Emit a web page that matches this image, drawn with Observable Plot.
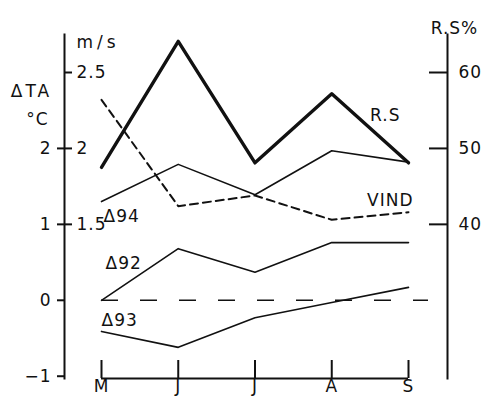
<!DOCTYPE html>
<html>
<head>
<meta charset="utf-8">
<script src="https://cdn.jsdelivr.net/npm/d3@7"></script>
<script src="https://cdn.jsdelivr.net/npm/@observablehq/plot@0.6"></script>
<style>
  html, body { margin: 0; padding: 0; background: #fff; }
</style>
</head>
<body>
<div id="chart"></div>
<script>
// Months (x categories)
const months = ["M", "J", "J", "A", "S"];
// R.S % (right axis)
const rs = [47.5, 64.1, 48.1, 57.2, 48.1];
// Wind, m/s (left inner axis)
const vind = [2.32, 1.62, 1.69, 1.53, 1.58];
// ΔTA °C series
const d94 = [1.30, 1.79, 1.39, 1.97, 1.82];
const d92 = [0.00, 0.68, 0.37, 0.76, 0.76];
const d93 = [-0.41, -0.62, -0.23, -0.03, 0.17];
// Tick values
const taTicks = [-1, 0, 1, 2];
const msTicks = [2.5, 2, 1.5];
const rsTicks = [60, 50, 40];

// conversions onto the ΔTA scale
const msToTA = v => 2 * v - 2;
const rsToTA = v => (v - 30) / 10;

const idx = months.map((_, i) => i);
const yDomain = [-1.03, 3];
const W = 483, H = 398, mL = 64, mR = 36, mT = 34, mB = 20;
const frameW = W - mL - mR, frameH = H - mT - mB;
const fmt = v => String(v).replace("-", "−");

const chart = Plot.plot({
  width: W, height: H,
  marginLeft: mL, marginRight: mR, marginTop: mT, marginBottom: mB,
  x: {domain: [0, months.length - 1], range: [101, 408], axis: null},
  y: {domain: yDomain, range: [378, 72]},
  style: {fontFamily: "DejaVu Sans", fontSize: "17px", background: "#fff", color: "#111", letterSpacing: "1px"},
  marks: [
    // axes lines
    Plot.frame({anchor: "left", stroke: "#111", strokeWidth: 2}),
    Plot.frame({anchor: "right", stroke: "#111", strokeWidth: 2}),
    Plot.ruleY([yDomain[0]], {x1: 0, x2: months.length - 1, stroke: "#111", strokeWidth: 2}),
    // x ticks (upward) and labels
    Plot.tickX(idx, {x: d => d, insetTop: frameH - 18, stroke: "#111", strokeWidth: 2}),
    Plot.text(idx, {x: d => d, frameAnchor: "bottom", dy: 13, text: d => months[d], fill: "#111"}),
    // left ΔTA axis
    Plot.axisY({anchor: "left", ticks: taTicks, tickSize: 7, tickPadding: 6, tickFormat: fmt, strokeWidth: 2, fontSize: 17}),
    // m/s ticks, right of left axis
    Plot.tickY(msTicks, {y: d => msToTA(d), insetRight: frameW - 8, stroke: "#111", strokeWidth: 2}),
    Plot.text(msTicks, {y: d => msToTA(d), frameAnchor: "left", dx: 12, textAnchor: "start", text: d => String(d), fill: "#111"}),
    // right R.S% axis (ticks inward)
    Plot.tickY(rsTicks, {y: d => rsToTA(d), insetLeft: frameW - 18, stroke: "#111", strokeWidth: 2}),
    Plot.text(rsTicks, {y: d => rsToTA(d), frameAnchor: "right", dx: 11, textAnchor: "start", text: d => String(d), fill: "#111"}),
    // axis titles
    Plot.text(["m/s"], {frameAnchor: "top-left", dx: 12, dy: 1, textAnchor: "start", text: d => d, fill: "#111"}),
    Plot.text(["R.S%"], {frameAnchor: "top-right", dx: 7, dy: -13, textAnchor: "middle", text: d => d, fill: "#111"}),
    Plot.text(["ΔTA"], {frameAnchor: "top-left", dx: -33, dy: 50, textAnchor: "middle", text: d => d, fill: "#111"}),
    Plot.text(["°C"], {frameAnchor: "top-left", dx: -27, dy: 78, textAnchor: "middle", text: d => d, fill: "#111"}),
    // zero reference dashed line
    Plot.ruleY([0], {insetLeft: 101 - mL, insetRight: 19, stroke: "#111", strokeWidth: 1.6, strokeDasharray: "17,22"}),
    // series
    Plot.line(idx, {x: d => d, y: d => rsToTA(rs[d]), stroke: "#111", strokeWidth: 3.4}),
    Plot.line(idx, {x: d => d, y: d => msToTA(vind[d]), stroke: "#111", strokeWidth: 2, strokeDasharray: "8,5"}),
    Plot.line(idx, {x: d => d, y: d => d94[d], stroke: "#111", strokeWidth: 1.6}),
    Plot.line(idx, {x: d => d, y: d => d92[d], stroke: "#111", strokeWidth: 1.6}),
    Plot.line(idx, {x: d => d, y: d => d93[d], stroke: "#111", strokeWidth: 1.6}),
    // series labels
    Plot.text([4], {x: d => d, y: d => rsToTA(rs[d]), text: () => "R.S", textAnchor: "end", dx: -8, dy: -47, fill: "#111"}),
    Plot.text([4], {x: d => d, y: d => msToTA(vind[d]), text: () => "VIND", textAnchor: "end", dx: 5, dy: -12, fill: "#111"}),
    Plot.text([0], {x: d => d, y: d => d94[d], text: () => "Δ94", textAnchor: "start", dx: 2, dy: 15, fill: "#111"}),
    Plot.text([0], {x: d => d, y: d => d92[d], text: () => "Δ92", textAnchor: "start", dx: 4, dy: -37, fill: "#111"}),
    Plot.text([0], {x: d => d, y: d => d93[d], text: () => "Δ93", textAnchor: "start", dx: 0, dy: -11, fill: "#111"})
  ]
});
d3.select(chart).selectAll("text")
  .filter(function() { return this.textContent === "m/s"; })
  .style("letter-spacing", "4px");
d3.select(chart).selectAll("text")
  .filter(function() { return this.textContent === "ΔTA"; })
  .style("letter-spacing", "3px");
document.getElementById("chart").appendChild(chart);
</script>
</body>
</html>
